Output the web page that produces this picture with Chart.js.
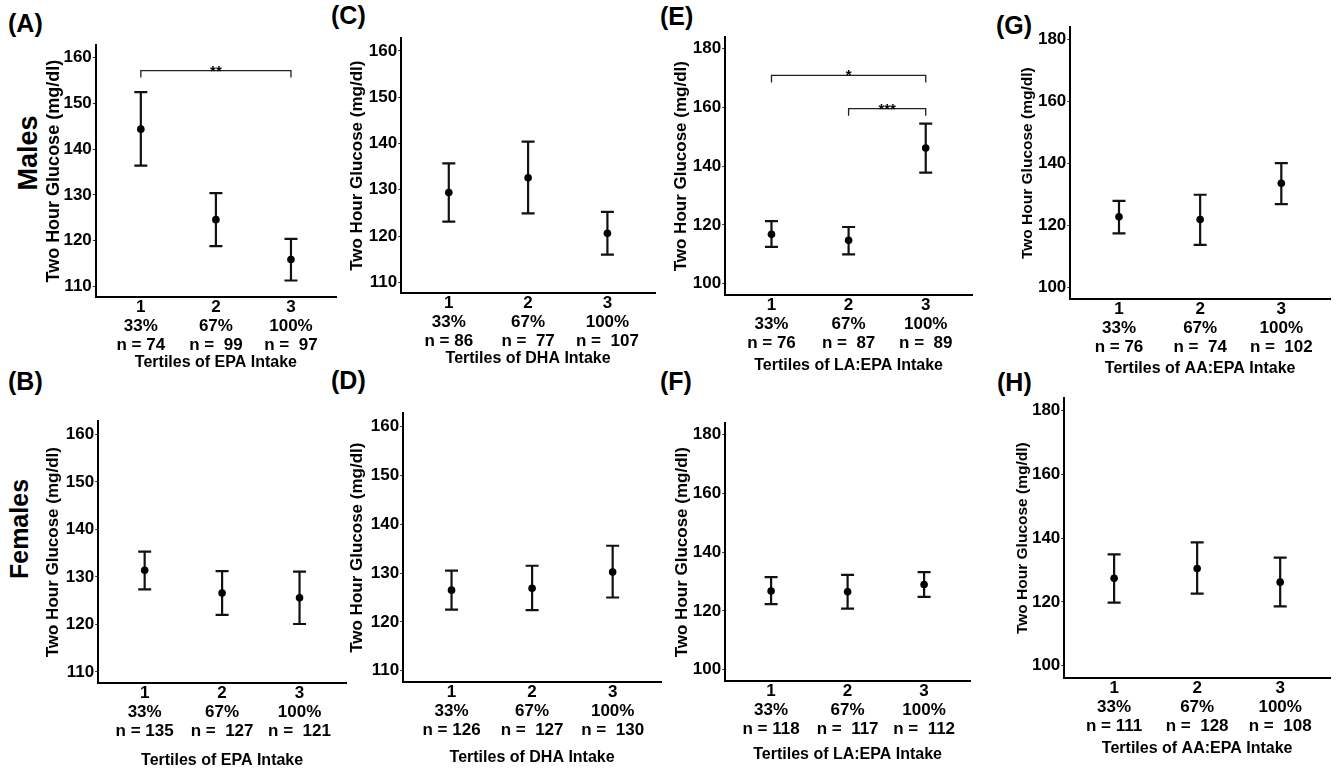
<!DOCTYPE html>
<html>
<head>
<meta charset="utf-8">
<script src="https://cdn.jsdelivr.net/npm/chart.js@4.4.0/dist/chart.umd.min.js"></script>
<style>
  body { margin: 0; background: #fff; width: 1338px; height: 769px; position: relative; overflow: hidden;
         font-family: "Liberation Sans", Arial, sans-serif; font-weight: bold; color: #000; }
  canvas { position: absolute; }
  .lbl { position: absolute; transform: translateY(-50%); font-size: 25px; line-height: 1; }
  .sex { position: absolute; transform: translate(-50%, -50%) rotate(-90deg); white-space: nowrap; line-height: 1; }
</style>
</head>
<body>
<div class="lbl" style="left:8px;top:23px">(A)</div>
<div class="lbl" style="left:331px;top:15px">(C)</div>
<div class="lbl" style="left:660px;top:16px">(E)</div>
<div class="lbl" style="left:996px;top:25px">(G)</div>
<div class="lbl" style="left:8px;top:381px">(B)</div>
<div class="lbl" style="left:331px;top:380px">(D)</div>
<div class="lbl" style="left:660px;top:381px">(F)</div>
<div class="lbl" style="left:997px;top:382px">(H)</div>
<div class="sex" style="left:28px;top:153px;font-size:27px">Males</div>
<div class="sex" style="left:19px;top:529px;font-size:25px">Females</div>
<script>
// categories
const tertiles = [1, 2, 3];
const pctLabels = ['33%', '67%', '100%'];
const ticksLow = [110, 120, 130, 140, 150, 160];
const ticksHigh = [100, 120, 140, 160, 180];
const rangeLow = [107.6, 162.8];
const rangeHigh = [96, 184];

// (A) males, EPA
const meanA = [144.4, 124.6, 115.9];
const lowA  = [136.4, 118.8, 111.3];
const highA = [152.5, 130.4, 120.4];
const nA = [74, 99, 97];
const sigA = [{ from: 1, to: 3, y: 157.2, text: '**' }];

// (C) males, DHA
const meanC = [129.4, 132.6, 120.6];
const lowC  = [123.1, 124.9, 116.0];
const highC = [135.7, 140.4, 125.2];
const nC = [86, 77, 107];

// (E) males, LA:EPA
const meanE = [116.8, 114.8, 146.2];
const lowE  = [112.5, 110.0, 137.8];
const highE = [121.3, 119.3, 154.5];
const nE = [76, 87, 89];
const sigE = [{ from: 1, to: 3, y: 170.9, text: '*' }, { from: 2, to: 3, y: 159.6, text: '***' }];

// (G) males, AA:EPA
const meanG = [122.7, 121.8, 133.5];
const lowG  = [117.3, 113.6, 126.8];
const highG = [127.8, 129.8, 140.0];
const nG = [76, 74, 102];

// (B) females, EPA
const meanB = [131.4, 126.6, 125.6];
const lowB  = [127.4, 122.0, 120.1];
const highB = [135.3, 131.2, 131.1];
const nB = [135, 127, 121];

// (D) females, DHA
const meanD = [126.5, 126.9, 130.2];
const lowD  = [122.5, 122.4, 125.0];
const highD = [130.5, 131.5, 135.6];
const nD = [126, 127, 130];

// (F) females, LA:EPA
const meanF = [126.8, 126.5, 129.0];
const lowF  = [122.3, 120.8, 124.8];
const highF = [131.5, 132.3, 133.2];
const nF = [118, 117, 112];

// (H) females, AA:EPA
const meanH = [127.4, 130.5, 126.2];
const lowH  = [119.8, 122.6, 118.6];
const highH = [134.9, 138.7, 133.9];
const nH = [111, 128, 108];

const FONT = '"Liberation Sans", Arial, sans-serif';
const TICK = 17;

// l/t/r/b = plot area box, tx = y title centre x, ty = x title centre y
const panels = [
  { mean: meanA, low: lowA, high: highA, n: nA, sig: sigA, xTitle: 'Tertiles of EPA Intake', yTicks: ticksLow, range: rangeLow,
    l: 96, t: 45, r: 336, b: 297, tx: 54, yFont: 18, ty: 362 },
  { mean: meanC, low: lowC, high: highC, n: nC, sig: [], xTitle: 'Tertiles of DHA Intake', yTicks: ticksLow, range: rangeLow,
    l: 401, t: 38, r: 655, b: 293, tx: 357, yFont: 17, ty: 358 },
  { mean: meanE, low: lowE, high: highE, n: nE, sig: sigE, xTitle: 'Tertiles of LA:EPA Intake', yTicks: ticksHigh, range: rangeHigh,
    l: 725, t: 37, r: 972, b: 295, tx: 681, yFont: 17, ty: 365 },
  { mean: meanG, low: lowG, high: highG, n: nG, sig: [], xTitle: 'Tertiles of AA:EPA Intake', yTicks: ticksHigh, range: rangeHigh,
    l: 1070, t: 27, r: 1330, b: 299, tx: 1027, yFont: 15.5, ty: 368 },
  { mean: meanB, low: lowB, high: highB, n: nB, sig: [], xTitle: 'Tertiles of EPA Intake', yTicks: ticksLow, range: rangeLow,
    l: 98, t: 421, r: 346, b: 683, tx: 53, yFont: 17, ty: 760 },
  { mean: meanD, low: lowD, high: highD, n: nD, sig: [], xTitle: 'Tertiles of DHA Intake', yTicks: ticksLow, range: rangeLow,
    l: 403, t: 413, r: 661, b: 682, tx: 357, yFont: 17, ty: 757 },
  { mean: meanF, low: lowF, high: highF, n: nF, sig: [], xTitle: 'Tertiles of LA:EPA Intake', yTicks: ticksHigh, range: rangeHigh,
    l: 725, t: 423, r: 970, b: 681, tx: 682, yFont: 17, ty: 754 },
  { mean: meanH, low: lowH, high: highH, n: nH, sig: [], xTitle: 'Tertiles of AA:EPA Intake', yTicks: ticksHigh, range: rangeHigh,
    l: 1064, t: 398, r: 1330, b: 678, tx: 1022, yFont: 15.5, ty: 748 }
];

function nLabel(n, i) {
  return (i === 0 ? 'n = ' : 'n =  ') + n[i];
}

// error bars + significance brackets, placed with the chart's scales
function errorBarPlugin(p) {
  return {
    id: 'errorBars',
    beforeDatasetsDraw(chart) {
      const { ctx, scales: { x, y } } = chart;
      const cap = 6.5;
      ctx.save();
      ctx.strokeStyle = '#111';
      ctx.lineWidth = 2.2;
      tertiles.forEach((t, i) => {
        const px = x.getPixelForValue(t);
        const y0 = y.getPixelForValue(p.low[i]);
        const y1 = y.getPixelForValue(p.high[i]);
        ctx.beginPath();
        ctx.moveTo(px, y0); ctx.lineTo(px, y1);
        ctx.moveTo(px - cap, y0); ctx.lineTo(px + cap, y0);
        ctx.moveTo(px - cap, y1); ctx.lineTo(px + cap, y1);
        ctx.stroke();
      });
      ctx.lineWidth = 1.3;
      ctx.strokeStyle = '#222';
      ctx.fillStyle = '#000';
      ctx.font = 'bold 15px ' + FONT;
      ctx.textAlign = 'center';
      ctx.textBaseline = 'alphabetic';
      p.sig.forEach(s => {
        const xa = x.getPixelForValue(s.from);
        const xb = x.getPixelForValue(s.to);
        const yy = y.getPixelForValue(s.y);
        ctx.beginPath();
        ctx.moveTo(xa, yy + 7); ctx.lineTo(xa, yy); ctx.lineTo(xb, yy); ctx.lineTo(xb, yy + 7);
        ctx.stroke();
        ctx.fillText(s.text, (xa + xb) / 2, yy + 5);
      });
      ctx.restore();
    }
  };
}

panels.forEach(p => {
  const yLH = p.yFont * 1.2;
  const xLH = 16 * 1.2;
  const padTop = 14, padRight = 8, padLeft = 2, padBottom = 2;
  const cl = p.tx - yLH / 2 - padLeft;
  const ct = p.t - padTop;
  const W = p.l - cl - padLeft;
  const H = p.ty + xLH / 2 - p.b;
  const cw = p.r + padRight - cl;
  const ch = p.b + H + padBottom - ct;

  const canvas = document.createElement('canvas');
  canvas.width = Math.round(cw);
  canvas.height = Math.round(ch);
  canvas.style.left = cl + 'px';
  canvas.style.top = ct + 'px';
  canvas.style.width = Math.round(cw) + 'px';
  canvas.style.height = Math.round(ch) + 'px';
  document.body.appendChild(canvas);

  new Chart(canvas.getContext('2d'), {
    type: 'scatter',
    data: {
      datasets: [{
        data: tertiles.map((t, i) => ({ x: t, y: p.mean[i] })),
        backgroundColor: '#000',
        borderWidth: 0,
        pointRadius: 3.8,
        pointHoverRadius: 3.8
      }]
    },
    options: {
      responsive: false,
      animation: false,
      devicePixelRatio: 1,
      layout: { padding: { top: padTop, right: padRight, left: padLeft, bottom: padBottom } },
      plugins: { legend: { display: false }, tooltip: { enabled: false } },
      scales: {
        x: {
          type: 'linear',
          min: 0.4,
          max: 3.6,
          afterBuildTicks: s => { s.ticks = tertiles.map(v => ({ value: v })); },
          afterFit: s => { s.height = H; },
          grid: { display: false, drawTicks: false },
          border: { display: true, color: '#000', width: 2 },
          ticks: {
            color: '#000',
            padding: 1,
            maxRotation: 0,
            autoSkip: false,
            font: { family: FONT, size: TICK, weight: 'bold', lineHeight: 1.1 },
            callback: (v, i) => [String(v), pctLabels[i], nLabel(p.n, i)]
          },
          title: {
            display: true,
            text: p.xTitle,
            color: '#000',
            padding: 0,
            font: { family: FONT, size: 16, weight: 'bold' }
          }
        },
        y: {
          min: p.range[0],
          max: p.range[1],
          afterBuildTicks: s => { s.ticks = p.yTicks.map(v => ({ value: v })); },
          afterFit: s => { s.width = W; },
          grid: { drawOnChartArea: false, drawTicks: true, tickLength: 3, color: '#333', lineWidth: 1 },
          border: { display: true, color: '#000', width: 2 },
          ticks: {
            color: '#000',
            padding: 1,
            font: { family: FONT, size: TICK, weight: 'bold' }
          },
          title: {
            display: true,
            text: 'Two Hour Glucose (mg/dl)',
            color: '#000',
            padding: 0,
            font: { family: FONT, size: p.yFont, weight: 'bold' }
          }
        }
      }
    },
    plugins: [errorBarPlugin(p)]
  });
});
</script>
</body>
</html>
